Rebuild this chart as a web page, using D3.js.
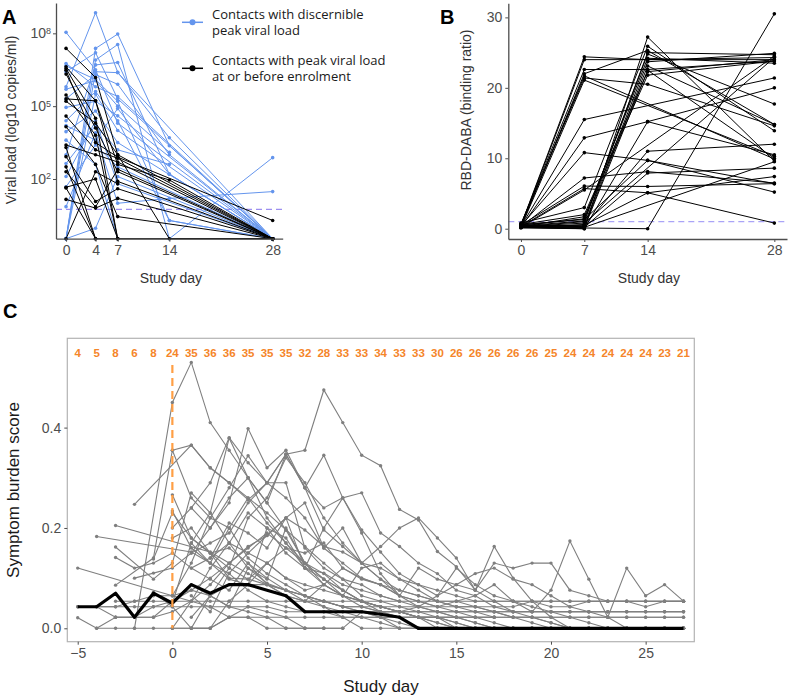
<!DOCTYPE html>
<html>
<head>
<meta charset="utf-8">
<script src="https://d3js.org/d3.v7.min.js"></script>
<style>
    body { margin: 0; background: #fff; }
    svg { font-family: "Liberation Sans", Arial, sans-serif; }
    .axis path, .axis line { stroke: #4d4d4d; }
    .axis text { fill: #4d4d4d; font-size: 14px; }
    .legend text { font-family: "Open Sans", sans-serif; font-size: 13px; fill: #1a1a1a; }
</style>
</head>
<body>
<div id="chart"></div>
<script>
// ---------- Panel A: viral load (log10 copies/ml), days 0,4,7,14,28 ----------
const vlDays = [0, 4, 7, 14, 28];
const ND = -0.46; // undetectable, plotted on the axis
const vlLOD = 0.75;
const vlTicks = [2, 5, 8];
// contacts with discernible peak viral load (blue)
const vlBlue = [
    [5.8, 8.85, 6.4, 3.7, ND],
    [8.04, 6.5, 4.3, null, ND],
    [ND, 7.38, 7.97, 3.37, ND],
    [ND, 6.9, 7.54, ND, 2.88],
    [3.0, 6.7, 6.8, 2.2, ND],
    [6.76, 5.8, 5.4, null, ND],
    [6.66, 6.1, 5.2, 0.29, ND],
    [ND, 6.42, 6.38, null, ND],
    [4.95, 5.2, 4.6, null, ND],
    [3.95, 4.8, 3.5, null, ND],
    [ND, 5.5, 4.0, null, ND],
    [2.64, 4.2, 3.2, 2.6, null],
    [1.68, 3.4, 2.5, null, ND],
    [0.86, 3.9, 1.0, 1.2, 1.48],
    [ND, -0.03, 2.1, null, ND],
    [5.3, 6.3, 5.9, 3.0, ND],
    [4.4, 5.6, 4.4, 0.29, ND],
    [6.42, 7.2, 5.3, null, ND],
    [3.6, 2.6, ND, null, null],
    [2.1, 4.4, 1.8, null, ND],
    [5.7, 6.05, 5.0, 3.1, null],
    [4.2, 3.6, 4.9, 2.2, ND]
];
// contacts with peak viral load at or before enrolment (black)
const vlBlack = [
    [7.38, 6.18, 3.0, ND, ND],
    [6.62, 5.22, 2.6, 1.96, ND],
    [6.55, 4.5, ND, null, ND],
    [6.48, 3.5, 2.9, null, 0.29],
    [6.32, 4.1, 2.3, null, ND],
    [5.3, 5.22, 1.9, null, ND],
    [5.46, 3.8, ND, null, null],
    [4.59, 3.2, 2.85, null, ND],
    [4.15, 2.6, 0.45, null, ND],
    [3.40, 3.0, 2.7, null, ND],
    [3.3, ND, null, null, null],
    [2.92, 1.07, 1.6, null, ND],
    [2.5, ND, ND, null, null],
    [2.30, 0.85, 2.4, null, ND],
    [1.66, 2.0, ND, null, null],
    [1.16, 0.8, 1.2, null, ND],
    [ND, 2.3, 1.8, null, null],
    [1.63, ND, null, null, null],
    [5.2, 4.3, 3.0, null, ND]
];

// ---------- Panel B: RBD-DABA binding ratio, days 0,7,14,28 ----------
const abDays = [0, 7, 14, 28];
const abLOD = 1;
const abTicks = [0, 10, 20, 30];
const abSeries = [
    [0.5, 24.4, 24.0, 24.3],
    [0.4, 24.0, 24.0, 24.0],
    [0.6, 22.6, 22.6, 23.8],
    [0.3, 22.0, 25.3, 14.8],
    [0.5, 21.7, null, 9.9],
    [0.2, 21.1, null, 10.3],
    [0.7, 21.4, 20.5, 14.6],
    [0.3, 15.5, null, 21.4],
    [0.2, 12.9, 15.2, 20.0],
    [0.4, 10.8, 9.7, 6.4],
    [0.3, 7.2, 8.1, 6.5],
    [0.5, 6.05, 6.0, 6.4],
    [0.3, 5.7, 5.1, 0.8],
    [0.2, 5.5, null, 24.5],
    [0.3, 1.0, 25.0, 24.7],
    [0.5, 1.4, 24.2, 23.5],
    [0.2, 0.6, 23.7, 24.9],
    [0.4, 0.3, 23.1, 14.8],
    [0.6, 2.0, 22.3, 24.0],
    [0.3, 1.7, 21.8, 23.8],
    [0.2, 0.1, 22.5, 10.0],
    [0.8, 3.0, 25.9, 13.9],
    [0.1, 0.0, 27.2, 9.6],
    [0.4, 1.1, 24.8, 17.7],
    [0.3, 0.2, 7.9, 8.6],
    [0.5, 0.4, 11.0, 12.0],
    [0.2, 0.1, 0.0, 30.5],
    [0.3, 0.5, 5.1, 7.4],
    [0.4, 0.2, null, 9.5],
    [0.6, 1.3, 9.7, 5.2],
    [0.3, 0.8, null, 24.3],
    [0.2, 0.0, 15.2, 10.5]
];

// ---------- Panel C: symptom burden score by study day ----------
const scDays = d3.range(-5, 28);
const scCounts = [4, 5, 8, 6, 8, 24, 35, 36, 36, 35, 35, 35, 32, 28, 33, 33, 34, 33, 33, 30,
    26, 26, 26, 26, 26, 25, 24, 24, 24, 24, 24, 23, 21];
const scMedian = [0.043, 0.043, 0.07, 0.022, 0.07, 0.05, 0.087, 0.07, 0.087, 0.087, 0.076, 0.065,
    0.033, 0.033, 0.033, 0.033, 0.028, 0.022, 0, 0, 0, 0, 0, 0, 0, 0, 0, 0, 0, 0, 0, 0, 0];
const scXTicks = [-5, 0, 5, 10, 15, 20, 25];
const scYTicks = [0, 0.2, 0.4];
const scSubjects = [
    {start: -2, v: [0, null, .45, .53, .41, .355, .30, .25, .196, .13, .109, .076, .054, .043, .033, .022, .022, .011, 0, 0, 0, 0, 0, 0, 0, 0, 0, 0, 0, 0]},
    {start: -2, v: [.247, null, null, .365, .32, .29, .26, .23, .196, .163, .13, .098, .065, .054, .043, .033, .022, 0, 0, 0, 0, 0]},
    {start: 0, v: [.355, .365, .32, .29, .256, .29, .347, .28, .24, .26, .196, .152, .109, .087, .076, .065, .054, .054, .054, .054, .054, .054, .054, .054, .054, .054, .054, .054]},
    {start: 1, v: [.15, .20, .26, .30, .25, .347, .355, .475, .41, .345, .324, .237, .216, .153, .123, .076, .054, .033, .022, .011, 0, 0, 0, 0, 0, 0, 0]},
    {start: 0, v: [.2, .24, .29, .38, .33, .29, .347, .28, .345, .26, .27, .19, .163, .13, .109, .076, .065, .043, .033, .033, .033, .033, .033, .033, .033, .033, .033, .033]},
    {start: 1, v: [.24, .2, .25, .398, .32, .355, .28, .196, .163, .13, .12, .098, .076, .054, .043, .043, .033, .022, .022, .011, 0, 0, 0, 0, 0, 0, 0]},
    {start: 0, v: [.065, .13, .22, .28, .344, .29, .29, .16, .12, .098, .087, .065, .054, .054, .054, .054, .054, .054, .054, .054, .043, .043, .054, .054, .054, .054, .054, .054]},
    {start: 0, v: [.05, .17, .23, .379, .3, .22, .17, .13, .098, .076, .054, .033, .022, 0, 0, 0, 0, 0, 0, 0]},
    {start: 0, v: [0, .054, .087, .13, .163, .185, .22, .196, .163, .152, .13, .163, .2, .22, .18, .14, .076, .163, .1, .054, .022, 0, 0, 0, 0, 0, 0, 0]},
    {start: 1, v: [.12, .098, .076, .13, .087, .065, .054, .087, .12, .098, .087, .065, .054, .043, .054, .065, .087, .054, .033, .076, .174, .098, .022, .12, .065, .087, .054]},
    {start: 2, v: [.14, .21, .19, .16, .22, .12, .2, .26, .19, .109, .065, .12, .098, .087, .076, .13, .12, .13, .13, .076, .065, .054, .054, .043, .054, .054]},
    {start: -5, v: [.043, .043, .043, .043, .043, .043, .043, .043, .043, .043, .043, .033, .033, .033, .033, .033, .033, .033, .033, .033, .033, .033, .033, .033, .033, .033, .033, .033, .033, .033, .033, .033, .033]},
    {start: -5, v: [.12, null, null, null, null, .065, .054, .043, .022, .022, 0, 0, 0, 0, 0]},
    {start: -5, v: [.021, 0, 0, 0, 0, 0, 0, 0, .022, .022, .022, .022, .022, .022, .022, .022, .022, .022, .022, .022, .022, .022, .022]},
    {start: -5, v: [.043, .043, .022, null, .022, .054, .087, .065, .043, .033, .022, 0, 0, 0]},
    {start: -4, v: [.183, null, null, null, null, .152, .13, .109, .076, .054, .043, .033, .033, .022, .022, .011, 0, 0, 0, 0, 0, 0, 0, 0, 0, 0, 0, 0, 0, 0, 0, 0]},
    {start: -4, v: [0, .022, .022, .022, .033, .054, .12, .17, .23, .2, .15, .12, .098, .065, .043, .033, .022, .022, .022, .022, .022, .022]},
    {start: -4, v: [.043, .043, .054, .065, .065, .076, .065, .087, .087, .087, .076, .065, .054, .043, .043, .043, .043, .043, .043, .043, .043, .043, .043, .054, .054, .054, .054, .054, .054, .054, .054, .054]},
    {start: -3, v: [.205, null, null, null, null, .152, .13, .109, .087, .065, .054, .054, .043, .043, .033, .033, .022, .022, .011, 0, 0, 0, 0, 0, 0, 0, 0, 0, 0, 0, 0]},
    {start: -3, v: [.162, null, .098, .13, .27, .23, .17, .15, .13, .1, .087, .076, .065, .054, .043, .033, .022, .011, 0, 0, 0, 0, 0, 0]},
    {start: -3, v: [.141, .12, .13, .15, .12, .14, .17, .12, .09, .076, .065, .054, .043, .033, .022, .011, 0, 0, 0, 0, 0, 0, 0, 0, 0, 0, 0, 0, 0, 0, 0]},
    {start: -3, v: [.086, null, .14, .355, .26, .22, .2, .14, .109, .087, .065, .043, .022, 0, 0, 0, 0, 0, 0, 0]},
    {start: -3, v: [.022, .022, .043, .054, .076, .1, .13, .16, .19, .16, .13, .098, .076, .054, .043, .033, .022, .011, 0, 0, 0, 0, 0, 0, 0, 0, 0, 0, 0, 0, 0]},
    {start: -3, v: [.054, .054, .054, .054, .054, .054, .054, .054, .054, .054, .054, .054, .054, .054, .054, .054]},
    {start: -2, v: [.1, .11, .12, .15, .17, .19, .25, .29, .26, .22, .16, .13, .1, .087, .065, .054, .043, .033, .022, .011, 0, 0, 0, 0, 0]},
    {start: -1, v: [.138, .23, .18, .15, .16, .13, .1, .076, .054, .043, .033, .022, .022, .022, .022, .022, .022, .022, .022, .022, .022, .022, .022, .022, .022, .022, .022, .022, .022]},
    {start: -1, v: [.072, .043, 0, .065, .12, .22, .26, .34, .29, .22, .17, .13, .098, .076, .065, .054, .043, .033, .022, .022, .022, .022, .022, .022, .022, .022, .022, .022, .022]},
    {start: 0, v: [.266, .18, .15, .12, .098, .087, .076, .065, .054, .043, .033, .033, .033, .033, .033, .033, .033, .033, .033, .033, .033, .033, .033, .033, .033, .033, .033, .033]},
    {start: 0, v: [.234, .16, .13, .2, .26, .21, .17, .12, .11, .087, .076, .065, .054, .043, .033, .022, .011, 0, 0, 0, 0, 0, 0, 0, 0, 0, 0, 0]},
    {start: 0, v: [.18, .2, .15, .1, .098, .13, .16, .15, .17, .12, .1, .087, .076, .065, .054, .054, .043, .033, .022, .011, 0, 0, 0, 0, 0, 0]},
    {start: 1, v: [.065, .033, .11, .15, .185, .22, .25, .16, .2, .13, .098, .065, .043, .033, .022, .011, 0, 0, 0, 0, 0, 0, 0]},
    {start: 1, v: [0, 0, .054, .087, .13, .1, .076, .087, .065, .054, .043, .033, .022, 0, 0, 0, 0, 0, 0, 0, 0]},
    {start: 1, v: [.022, .065, .043, .12, .098, .2, .13, .087, .065, .12, .13, .098, .087, .065, .12, .087, .065, .054, .043, .033, .022, .011, 0, 0, 0, 0, 0]},
    {start: 0, v: [0, 0, 0, .022, .043, .033, .022, 0, 0, 0, .033, .022, 0, 0, 0, 0, 0, 0, 0, 0, 0]},
    {start: 1, v: [.17, .13, .098, .087, .2, .18, .12, .087, .065, .054, .043, .033, .043, .065, .087, .109, .12, .098, .087, .065, .043, .033, .022, 0, 0, 0, 0]}
];

const width = 790, height = 699;
const svg = d3.select('#chart').append('svg')
    .attr('width', width).attr('height', height);

const toPoints = (days, vals) => vals.map((v, i) => ({x: days[i], y: v})).filter(d => d.y != null);

function drawSeries(g, x, y, pts, color, w, r) {
    const line = d3.line().x(d => x(d.x)).y(d => y(d.y));
    g.append('path').datum(pts)
        .attr('fill', 'none').attr('stroke', color)
        .attr('stroke-width', w).attr('d', line);
    g.selectAll(null).data(pts).enter().append('circle')
        .attr('cx', d => x(d.x)).attr('cy', d => y(d.y))
        .attr('r', r).attr('fill', color);
}

// ===== Panel A =====
{
    const x = d3.scaleLinear().domain([-1.36, 29.36]).range([56, 282.7]);
    const y = d3.scaleLinear().domain([ND, 9.25]).range([238.7, 3]);
    const g = svg.append('g');

    g.append('line')
        .attr('x1', x.range()[0]).attr('x2', x.range()[1])
        .attr('y1', y(vlLOD)).attr('y2', y(vlLOD))
        .attr('stroke', '#9d8ff0').attr('stroke-width', 1.1).attr('stroke-dasharray', '6,4');

    vlBlue.forEach(s => drawSeries(g, x, y, toPoints(vlDays, s), '#6495ED', 1, 1.8));
    vlBlack.forEach(s => drawSeries(g, x, y, toPoints(vlDays, s), '#000', 1, 1.8));

    const xa = g.append('g').attr('class', 'axis')
        .attr('transform', `translate(0,${y.range()[0]})`)
        .call(d3.axisBottom(x).tickValues(vlDays).tickSize(3).tickSizeOuter(0).tickPadding(3));
    xa.select('.domain').attr('stroke-width', 1.3);
    const ya = g.append('g').attr('class', 'axis')
        .attr('transform', `translate(${x.range()[0]},0)`)
        .call(d3.axisLeft(y).tickValues(vlTicks).tickSize(3).tickSizeOuter(0).tickPadding(3).tickFormat(''));
    ya.select('.domain').attr('stroke-width', 1.3);
    ya.selectAll('.tick text').each(function(d) {
        const t = d3.select(this).attr('x', -5);
        t.append('tspan').text('10');
        t.append('tspan').attr('dy', '-0.5em').attr('font-size', '9px').text(d);
    });
    g.selectAll('.axis text').attr('fill', '#666');

    g.append('text').attr('x', 171).attr('y', 283).attr('text-anchor', 'middle')
        .attr('font-size', 14).attr('fill', '#333').text('Study day');
    g.append('text').attr('transform', 'translate(16,120) rotate(-90)').attr('text-anchor', 'middle')
        .attr('font-size', 14).attr('fill', '#333').text('Viral load (log10 copies/ml)');
    g.append('text').attr('x', 2).attr('y', 24).attr('font-size', 20)
        .attr('font-weight', 'bold').text('A');

    const lg = g.append('g').attr('class', 'legend');
    const items = [
        {c: '#6495ED', y: 22.3, t: ['Contacts with discernible', 'peak viral load']},
        {c: '#000', y: 68.3, t: ['Contacts with peak viral load', 'at or before enrolment']}
    ];
    items.forEach(it => {
        lg.append('line').attr('x1', 182).attr('x2', 203).attr('y1', it.y).attr('y2', it.y)
            .attr('stroke', it.c).attr('stroke-width', 1.5);
        lg.append('circle').attr('cx', 192.5).attr('cy', it.y).attr('r', 3).attr('fill', it.c);
        it.t.forEach((s, i) => lg.append('text').attr('x', 212).attr('y', it.y - 3.5 + i * 16.5).text(s));
    });
}

// ===== Panel B =====
{
    const x = d3.scaleLinear().domain([-1.4, 29.4]).range([508.3, 787]);
    const y = d3.scaleLinear().domain([-1.46, 32]).range([239, 3.3]);
    const g = svg.append('g');

    g.append('line')
        .attr('x1', x.range()[0]).attr('x2', x.range()[1])
        .attr('y1', y(abLOD)).attr('y2', y(abLOD))
        .attr('stroke', '#aaa4f7').attr('stroke-width', 1.3).attr('stroke-dasharray', '6,4');

    abSeries.forEach(s => drawSeries(g, x, y, toPoints(abDays, s), '#000', 1, 1.8));

    const xa = g.append('g').attr('class', 'axis')
        .attr('transform', `translate(0,${y.range()[0]})`)
        .call(d3.axisBottom(x).tickValues(abDays).tickSize(3).tickSizeOuter(0).tickPadding(3));
    xa.select('.domain').attr('stroke-width', 1.3);
    const ya = g.append('g').attr('class', 'axis')
        .attr('transform', `translate(${x.range()[0]},0)`)
        .call(d3.axisLeft(y).tickValues(abTicks).tickSize(3).tickSizeOuter(0).tickPadding(3));
    ya.select('.domain').attr('stroke-width', 1.3);
    g.selectAll('.axis text').attr('fill', '#666');

    g.append('text').attr('x', 649).attr('y', 283).attr('text-anchor', 'middle')
        .attr('font-size', 14).attr('fill', '#333').text('Study day');
    g.append('text').attr('transform', 'translate(471,110) rotate(-90)').attr('text-anchor', 'middle')
        .attr('font-size', 14).attr('fill', '#333').text('RBD-DABA (binding ratio)');
    g.append('text').attr('x', 440).attr('y', 24).attr('font-size', 20)
        .attr('font-weight', 'bold').text('B');
}

// ===== Panel C =====
{
    const x = d3.scaleLinear().domain([-5.55, 27.57]).range([67.3, 694.3]);
    const y = d3.scaleLinear().domain([-0.0267, 0.578]).range([641.7, 338.3]);
    const g = svg.append('g');

    g.append('rect')
        .attr('x', x.range()[0]).attr('y', y.range()[1])
        .attr('width', x.range()[1] - x.range()[0]).attr('height', y.range()[0] - y.range()[1])
        .attr('fill', 'none').attr('stroke', '#b3b3b3').attr('stroke-width', 1.2);

    scSubjects.forEach(s => {
        const pts = s.v.map((v, i) => ({x: s.start + i, y: v})).filter(d => d.y != null);
        drawSeries(g, x, y, pts, '#7f7f7f', 1.1, 1.7);
    });

    g.append('path').datum(scDays.map((d, i) => ({x: d, y: scMedian[i]})))
        .attr('fill', 'none').attr('stroke', '#000').attr('stroke-width', 3.2)
        .attr('stroke-linejoin', 'round')
        .attr('d', d3.line().x(d => x(d.x)).y(d => y(d.y)));

    g.append('line')
        .attr('x1', x(0)).attr('x2', x(0)).attr('y1', y(0.525)).attr('y2', y(0))
        .attr('stroke', '#FF9F45').attr('stroke-width', 2.2).attr('stroke-dasharray', '8,5');

    g.selectAll('.count').data(scCounts).enter().append('text')
        .attr('x', (d, i) => x(scDays[i])).attr('y', 356.5)
        .attr('text-anchor', 'middle').attr('font-size', 11.5).attr('font-weight', 'bold')
        .attr('fill', '#F5852A').text(d => d);

    const xa = g.append('g').attr('class', 'axis')
        .attr('transform', `translate(0,${y.range()[0]})`)
        .call(d3.axisBottom(x).tickValues(scXTicks).tickSize(3).tickSizeOuter(0).tickPadding(3));
    xa.select('.domain').remove();
    xa.selectAll('text').attr('font-size', 15);
    const ya = g.append('g').attr('class', 'axis')
        .attr('transform', `translate(${x.range()[0]},0)`)
        .call(d3.axisLeft(y).tickValues(scYTicks).tickSize(3).tickSizeOuter(0).tickPadding(3)
            .tickFormat(d3.format('.1f')));
    ya.select('.domain').remove();
    ya.selectAll('text').attr('font-size', 15);
    g.selectAll('.axis line').attr('stroke', '#4d4d4d');

    g.append('text').attr('x', 381).attr('y', 692).attr('text-anchor', 'middle')
        .attr('font-size', 17).attr('fill', '#1a1a1a').text('Study day');
    g.append('text').attr('transform', 'translate(19,490) rotate(-90)').attr('text-anchor', 'middle')
        .attr('font-size', 17).attr('fill', '#1a1a1a').text('Symptom burden score');
    g.append('text').attr('x', 3).attr('y', 318).attr('font-size', 20)
        .attr('font-weight', 'bold').text('C');
}
</script>
</body>
</html>
